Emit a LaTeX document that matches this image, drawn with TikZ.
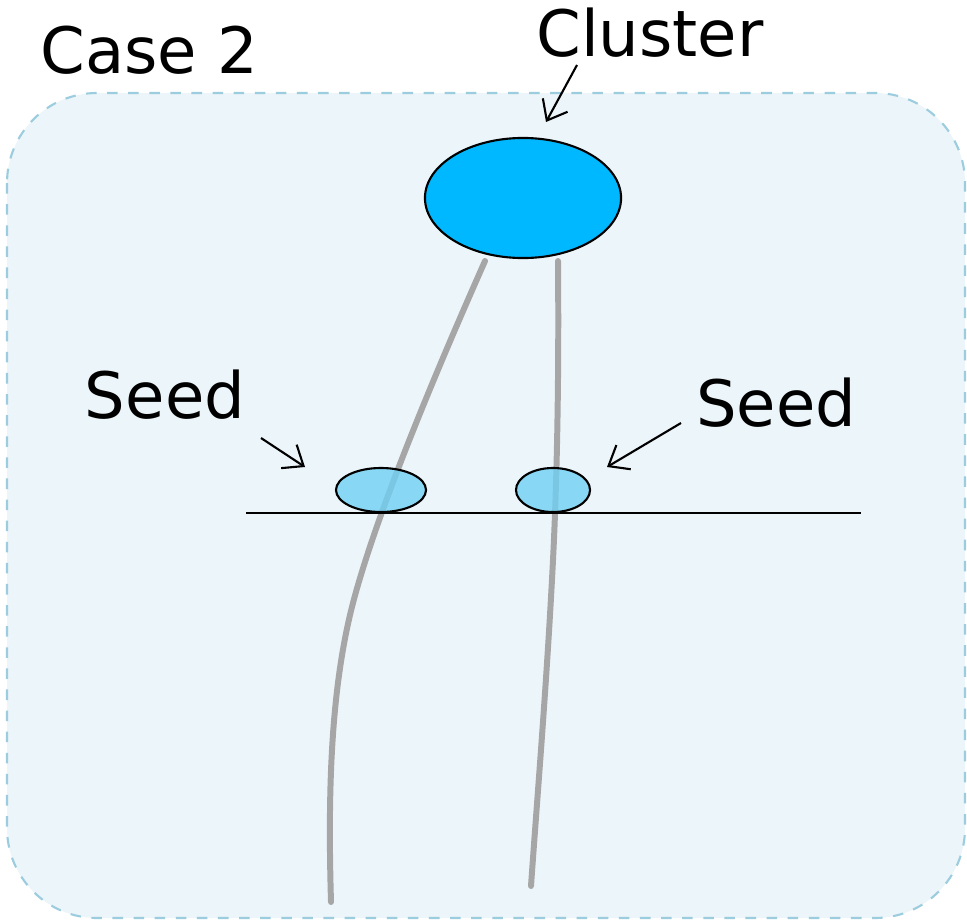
\documentclass[tikz,border=0pt]{standalone}
\usepackage{fontspec}
\setmainfont{DejaVu Sans}
\usetikzlibrary{shapes.geometric,arrows.meta}
\definecolor{boxfill}{HTML}{ECF5F9}
\definecolor{boxline}{HTML}{9CCDDF}
\definecolor{clusterblue}{HTML}{00B8FF}
\definecolor{seedblue}{HTML}{6FD0F4}
\definecolor{trackgray}{HTML}{A6A6A6}
\tikzstyle{label} = [font=\fontsize{18.2}{21}\selectfont, inner sep=0]
\tikzstyle{cluster} = [ellipse, draw, line width=0.6pt, fill=clusterblue, inner sep=0, minimum width=1.96cm, minimum height=1.2cm]
\tikzstyle{seed} = [ellipse, draw, line width=0.6pt, fill=seedblue, fill opacity=0.8, inner sep=0, minimum height=0.44cm]
\tikzstyle{pointer} = [line width=0.6pt, -{Straight Barb[length=5pt,width=8pt]}]
\tikzstyle{track} = [trackgray, line width=1.7pt, line cap=round]

\begin{document}
\begin{tikzpicture}[x=0.01cm, y=-0.01cm]
        \useasboundingbox (0,0) rectangle (967,921);
        \draw [boxline, fill=boxfill, dashed, line width=0.6pt, rounded corners=0.9cm] (7,93) rectangle (965,918);
        \node (case) [label, anchor=base west] at (40,73) {Case 2};
        \node (cluster-label) [label] at (650,33) {Cluster};
        \node (seed-left-label) [label] at (165,395) {Seed};
        \node (seed-right-label) [label] at (776,403) {Seed};
        % tracks
        \draw [track] (485,261) .. controls (430,385) and (370,530) .. (350,615) .. controls (330,700) and (328,800) .. (331,902);
        \draw [track] (558,261) .. controls (559,380) and (557,480) .. (553,560) .. controls (547,680) and (537,800) .. (531,886);
        \node (seed-left) [seed, minimum width=0.9cm] at (381,490) {};
        \node (seed-right) [seed, minimum width=0.74cm] at (553,490) {};
        \node (cluster) [cluster] at (523,198) {};
        \coordinate (layer-start) at (246,513);
        \coordinate (layer-end) at (861,513);
        \draw [line width=0.8pt] (layer-start) -- (layer-end);
        % pointers
        \coordinate (cluster-tail) at (577,65);
        \coordinate (cluster-tip) at (546,122);
        \coordinate (seed-left-tail) at (261,438);
        \coordinate (seed-left-tip) at (305,467);
        \coordinate (seed-right-tail) at (681,423);
        \coordinate (seed-right-tip) at (607,467);
        \draw [pointer] (cluster-tail) -- (cluster-tip);
        \draw [pointer] (seed-left-tail) -- (seed-left-tip);
        \draw [pointer] (seed-right-tail) -- (seed-right-tip);
\end{tikzpicture}
\end{document}
